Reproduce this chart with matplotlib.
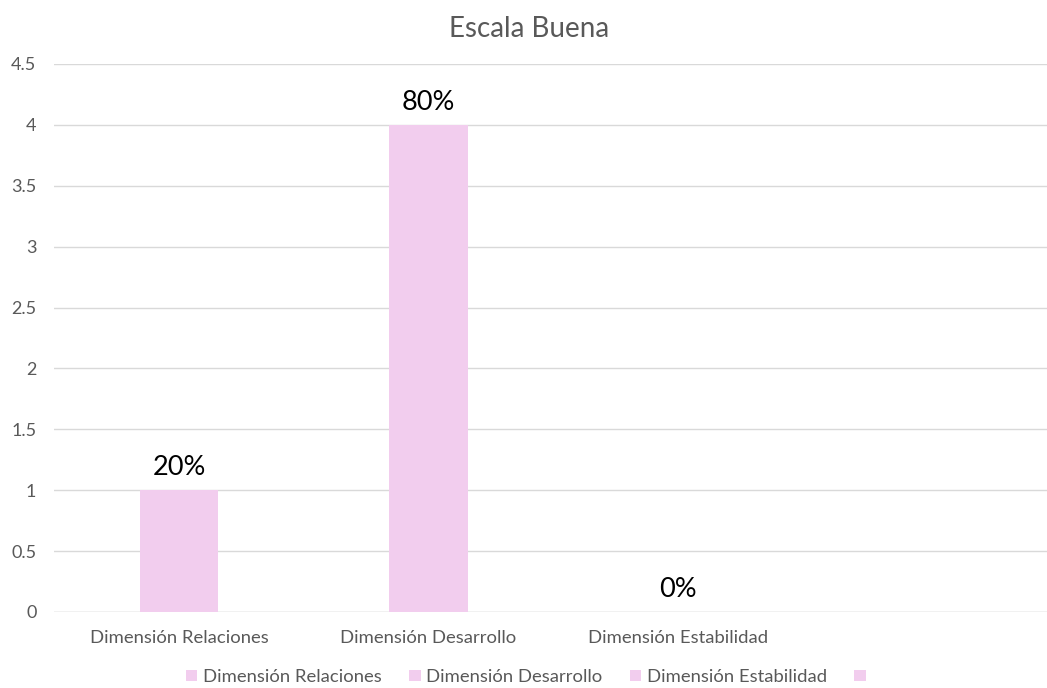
import matplotlib
matplotlib.use("Agg")
import matplotlib.pyplot as plt
from matplotlib.patches import Patch
import numpy as np

categories = ["Dimensión Relaciones", "Dimensión Desarrollo", "Dimensión Estabilidad", ""]
values = [1, 4, 0, 0]
labels = ["20%", "80%", "0%", ""]
yticks = [0, 0.5, 1, 1.5, 2, 2.5, 3, 3.5, 4, 4.5]

bar_color = "#F2CDEE"
gray = "#595959"

plt.rcParams['font.family'] = ['Lato', 'DejaVu Sans']

fig = plt.figure(figsize=(10.47, 6.88), dpi=100)
ax = fig.add_axes([0.052, 0.1105, 0.953, 0.7965])

x = np.arange(len(categories))
ax.bar(x[:3], values[:3], width=0.315, color=bar_color, zorder=2)
for xi, v, lab in zip(x, values, labels):
    if lab:
        ax.text(xi, v + 0.08, lab, ha="center", va="bottom", fontsize=19.5, color="black")

ax.set_xlim(-0.5, 3.5)
ax.set_ylim(0, 4.5)
ax.set_yticks(yticks)
ax.set_yticklabels([f"{t:g}" for t in yticks], color=gray, fontsize=13)
ax.set_xticks(x)
ax.set_xticklabels(categories, color=gray, fontsize=13.3)
ax.tick_params(axis="both", length=0)
ax.tick_params(axis="x", pad=13)
ax.tick_params(axis="y", pad=13)
ax.yaxis.grid(True, color="#D9D9D9", linewidth=1, zorder=0)
for s in ax.spines.values():
    s.set_visible(False)
ax.axhline(0, color="#D9D9D9", linewidth=1, zorder=1)

fig.text(0.505, 0.958, "Escala Buena", ha="center", va="center", fontsize=20, color=gray)

handles = [Patch(facecolor=bar_color, edgecolor="none") for _ in categories]
fig.legend(handles, categories, loc="center", bbox_to_anchor=(0.505, 0.016), ncol=4,
           frameon=False, fontsize=13.3, handlelength=0.6, handleheight=0.6,
           handletextpad=0.3, columnspacing=1.5, labelcolor=gray)

fig.savefig("out.png", dpi=100)
